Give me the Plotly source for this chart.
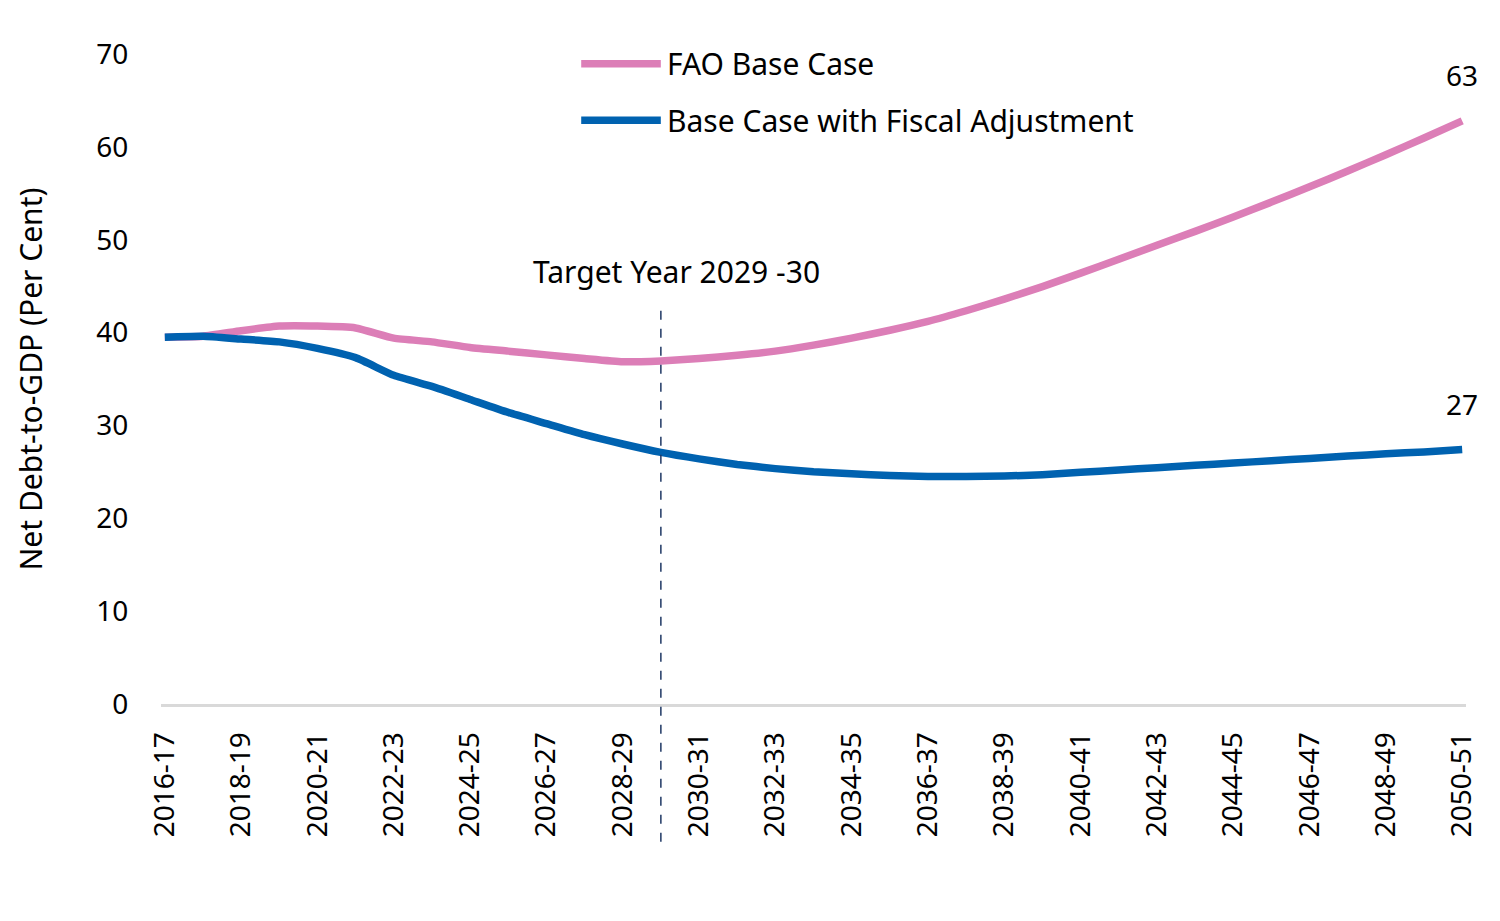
import plotly.graph_objects as go

# fiscal years 2016-17 .. 2050-51
years = [f"{y}-{str(y + 1)[2:]}" for y in range(2016, 2051)]

fao_base = [39.5, 39.6, 40.2, 40.7, 40.7, 40.5, 39.4, 39.0, 38.4, 38.0,
            37.6, 37.2, 36.85, 36.95, 37.2, 37.55, 38.0, 38.65, 39.4, 40.25,
            41.2, 42.35, 43.6, 44.95, 46.4, 47.9, 49.4, 50.9, 52.45, 54.05,
            55.7, 57.4, 59.15, 60.95, 62.8]
fiscal_adj = [39.5, 39.6, 39.3, 39.0, 38.3, 37.3, 35.4, 34.2, 32.8, 31.4,
              30.2, 29.0, 28.0, 27.1, 26.4, 25.8, 25.35, 25.0, 24.8, 24.6,
              24.5, 24.5, 24.55, 24.7, 24.95, 25.2, 25.45, 25.7, 25.95, 26.2,
              26.45, 26.7, 26.95, 27.15, 27.4]

end_labels = ["63", "27"]
target_year = "2029-30"
target_label = "Target Year 2029 -30"

PINK = "#DC7EB7"
BLUE = "#0062B0"
FONT = "Noto Sans"

fig = go.Figure()
fig.add_trace(go.Scatter(x=years, y=fao_base, mode="lines", name="FAO Base Case",
                         line=dict(color=PINK, width=7.5, shape="spline", smoothing=0.5)))
fig.add_trace(go.Scatter(x=years, y=fiscal_adj, mode="lines",
                         name="Base Case with Fiscal Adjustment",
                         line=dict(color=BLUE, width=7.5, shape="spline", smoothing=0.5)))

# end-of-line labels
for vals, lab in zip([fao_base, fiscal_adj], end_labels):
    fig.add_annotation(x=years[-1], y=vals[-1], text=lab, showarrow=False,
                       yshift=46, font=dict(size=28, color="black"))

# target year marker
ti = years.index(target_year)
fig.add_shape(type="line", xref="x", yref="paper", x0=ti, x1=ti,
              y0=-0.212, y1=0.614, line=dict(color="#1F3864", width=1.5, dash="dash"))
fig.add_annotation(x=ti, y=0.665, xref="x", yref="paper", text=target_label,
                   showarrow=False, xshift=16, font=dict(size=30, color="black"))

# legend drawn by hand so the line samples are long like the original
legend_items = [("FAO Base Case", PINK, 0.985), ("Base Case with Fiscal Adjustment", BLUE, 0.898)]
for name, col, yy in legend_items:
    fig.add_shape(type="line", xref="paper", yref="paper", x0=0.322, x1=0.383,
                  y0=yy, y1=yy, line=dict(color=col, width=7.5))
    fig.add_annotation(xref="paper", yref="paper", x=0.386, y=yy, text=name,
                       showarrow=False, xanchor="left", yanchor="middle",
                       font=dict(size=30, color="black"))

fig.update_layout(
    width=1500, height=921,
    margin=dict(l=153, r=42, t=46, b=225),
    paper_bgcolor="white", plot_bgcolor="white",
    font=dict(family=FONT, size=28, color="black"),
    showlegend=False,
)
fig.update_xaxes(
    range=[-0.1, 34.1],
    tickmode="array", tickvals=years[::2], ticktext=years[::2],
    tickangle=-90, ticks="outside", ticklen=14, tickcolor="rgba(0,0,0,0)",
    showgrid=False, showline=True, linecolor="#D9D9D9", linewidth=3,
    tickfont=dict(size=28),
)
fig.update_yaxes(
    range=[0, 70], dtick=10, showgrid=False, zeroline=False,
    ticks="outside", ticklen=26, tickcolor="rgba(0,0,0,0)",
    tickfont=dict(size=28),
    title=dict(text="Net Debt-to-GDP (Per Cent)", font=dict(size=30), standoff=44),
)

fig.write_html("out.html")
